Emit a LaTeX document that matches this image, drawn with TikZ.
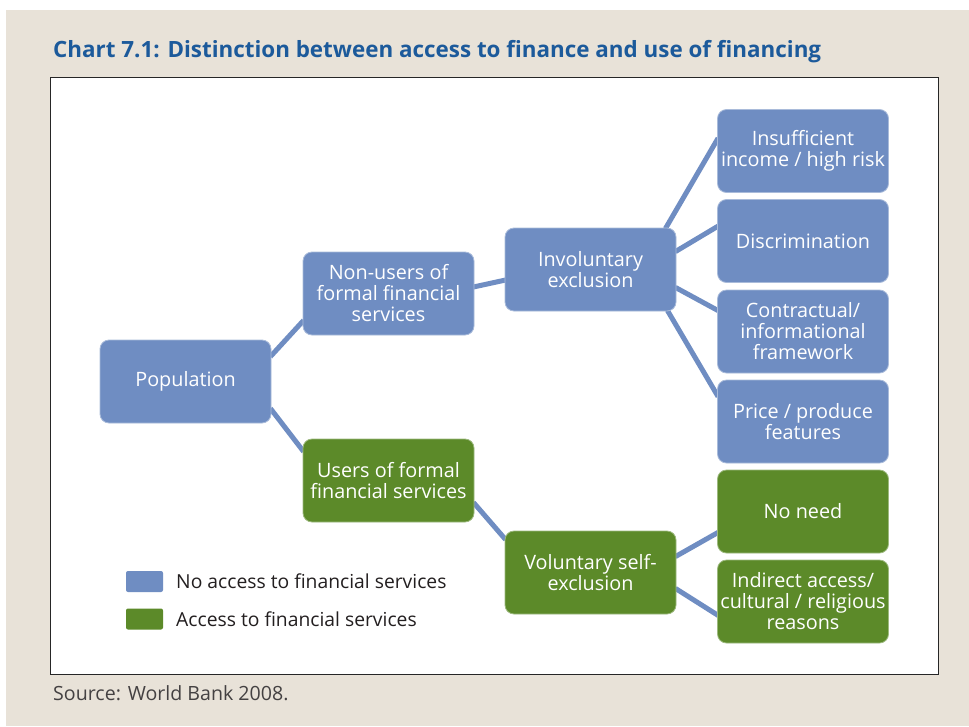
\documentclass[tikz,border=0pt]{standalone}
\usepackage{fontspec}
\setmainfont{Open Sans}
\usetikzlibrary{calc}
\definecolor{bgbeige}{HTML}{E8E2D8}
\definecolor{boxblue}{HTML}{6F8DC2}
\definecolor{boxgreen}{HTML}{5C8A29}
\definecolor{titleblue}{HTML}{1C5A9B}
\definecolor{txtgray}{HTML}{231F20}
\pgfdeclarelayer{edges}
\pgfdeclarelayer{panel}
\pgfsetlayers{panel,edges,main}
\begin{document}
\begin{tikzpicture}[x=1pt,y=-1pt,
  box/.style={rounded corners=9pt, minimum width=171pt, minimum height=83pt,
    inner sep=1pt, text=white, align=center, line width=0.8pt,
    font=\fontsize{19.8}{21}\selectfont},
  bluebox/.style={box, fill=boxblue, draw=boxblue!60!white},
  greenbox/.style={box, fill=boxgreen, draw=boxgreen!60!white},
  link/.style={draw=boxblue, line width=5pt},
  legbox/.style={rounded corners=2pt, minimum width=37pt, minimum height=21pt, inner sep=0pt},
  legtext/.style={anchor=west, text=txtgray, inner sep=0pt, font=\fontsize{19.3}{21}\selectfont}
]
\useasboundingbox (0,0) rectangle (969,726);
\begin{pgfonlayer}{panel}
\fill[bgbeige] (6,10) rectangle (969,726);
\fill[white] (50,77) rectangle (938,674);
\draw[black!85, line width=0.9pt] (50,77) rectangle (938,674);
\end{pgfonlayer}

\node[anchor=west, text=titleblue, inner sep=0pt, font=\fontsize{22.4}{26}\bfseries] (title) at (53,52) {Chart 7.1: Distinction between access to finance and use of financing};
\node[anchor=west, text=txtgray!85, inner sep=0pt, font=\fontsize{19.6}{22}\selectfont] (src) at (53,693) {Source: World Bank 2008.};

\node[bluebox] (pop) at (185.5,381.5) {Population};
\node[bluebox] (nu) at (388.5,293.5) {Non-users of\\formal financial\\services};
\node[greenbox] (us) at (388.5,480.5) {Users of formal\\financial services};
\node[bluebox] (inv) at (590.5,269.5) {Involuntary\\exclusion};
\node[greenbox] (vol) at (590.5,572.5) {Voluntary self-\\exclusion};
\node[bluebox] (ins) at (803,151) {Insufficient\\income / high risk};
\node[bluebox] (dis) at (803,241) {Discrimination};
\node[bluebox] (con) at (803,331.5) {Contractual/\\informational\\framework};
\node[bluebox] (pri) at (803,421.5) {Price / produce\\features};
\node[greenbox] (nn) at (803,511.5) {No need};
\node[greenbox] (ind) at (803,601.5) {Indirect access/\\cultural / religious\\reasons};

\begin{pgfonlayer}{edges}
\draw[link] ($(pop.north east)+(-1,17)$) -- ($(nu.south west)+(1,-15)$);
\draw[link] ($(pop.south east)+(-1,-15)$) -- ($(us.north west)+(1,13)$);
\draw[link] ($(nu.east)+(-1,-6.5)$) -- ($(inv.west)+(1,10.5)$);
\draw[link] ($(inv.north east)+(-11,1)$) -- ($(ins.north west)+(1,29)$);
\draw[link] ($(inv.north east)+(-1,24)$) -- ($(dis.north west)+(1,27)$);
\draw[link] ($(inv.south east)+(-1,-24)$) -- ($(con.north west)+(1,21)$);
\draw[link] ($(inv.south east)+(-9,-1)$) -- ($(pri.north west)+(1,17)$);
\draw[link] ($(us.south east)+(-1,-20)$) -- ($(vol.north west)+(1,9)$);
\draw[link] ($(vol.north east)+(-1,26)$) -- ($(nn.south west)+(1,-21)$);
\draw[link] ($(vol.south east)+(-1,-26)$) -- ($(ind.south west)+(1,-28)$);
\end{pgfonlayer}

\node[legbox, fill=boxblue] (lb1) at (144.5,581.5) {};
\node[legbox, fill=boxgreen] (lb2) at (144.5,619) {};
\node[legtext] (lt1) at (176,581) {No access to financial services};
\node[legtext] (lt2) at (176,619) {Access to financial services};
\end{tikzpicture}
\end{document}
